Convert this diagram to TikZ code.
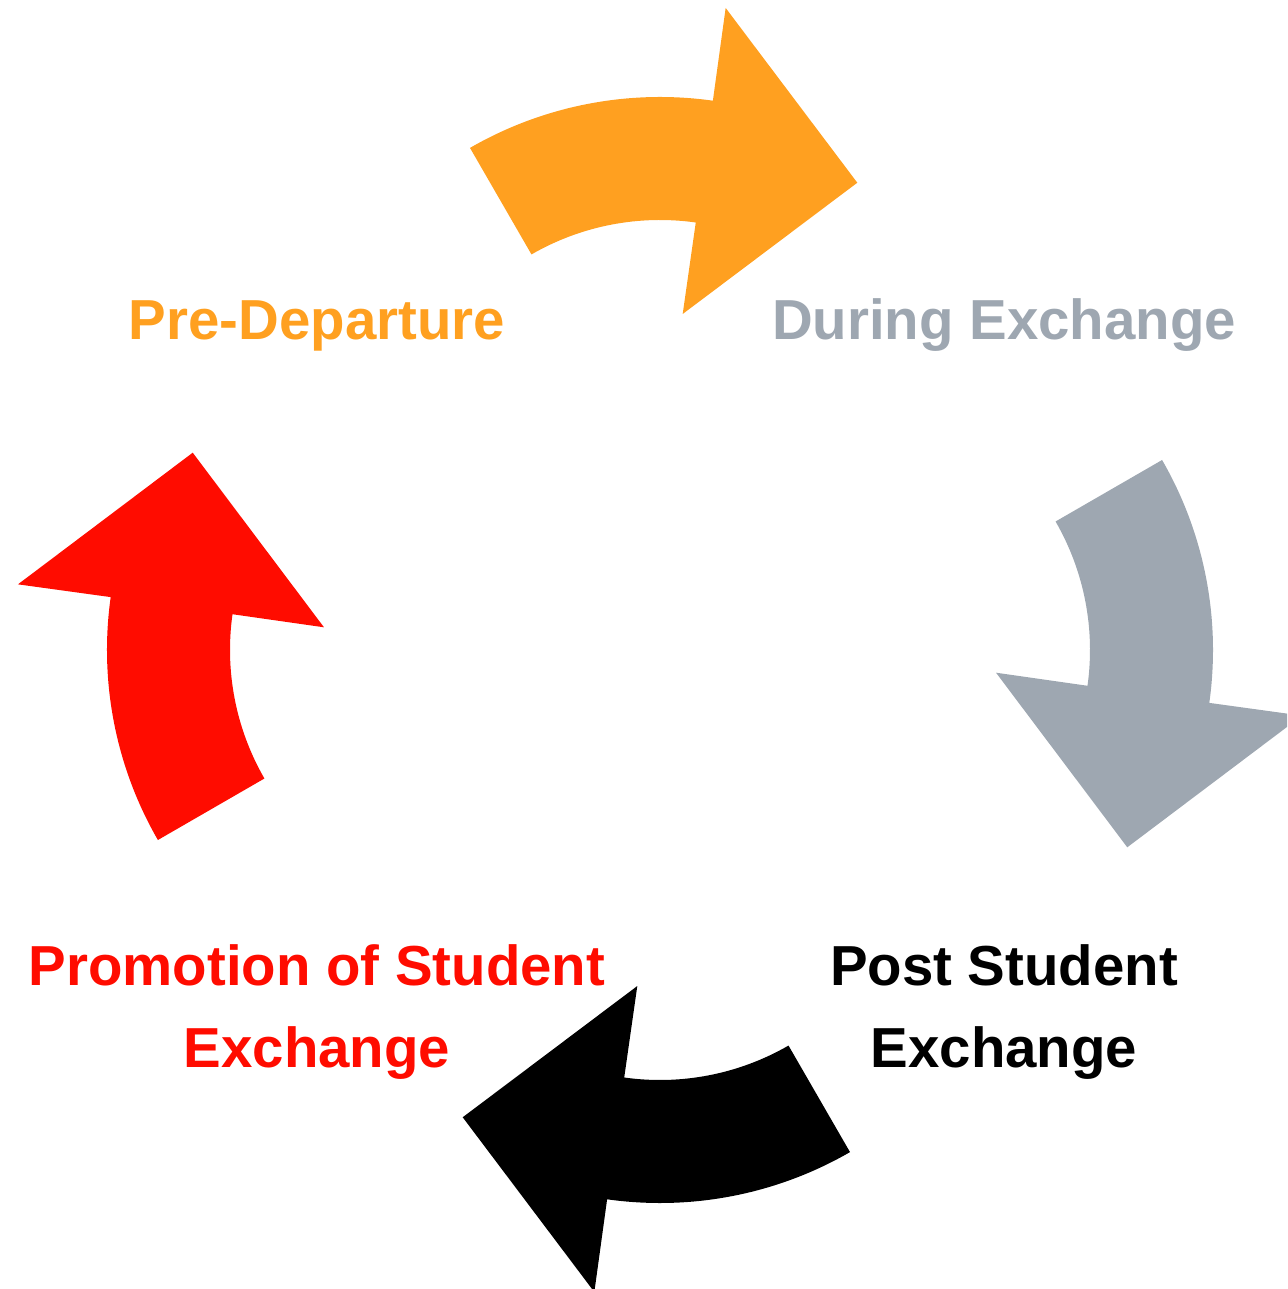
\documentclass[tikz,border=0pt]{standalone}
\usepackage{fontspec}
\setmainfont{Liberation Sans}
\definecolor{cOrange}{RGB}{255,160,32}
\definecolor{cGray}{RGB}{158,167,177}
\definecolor{cRed}{RGB}{255,12,0}
\definecolor{cBlack}{RGB}{0,0,0}
\tikzset{
  cyclearrow/.pic={
    \begin{scope}[shift={(0,173)}]
      \fill[pic actions] (120:380) arc[start angle=120,end angle=82,radius=380pt]
        -- (82.03:473.6) -- (56.16:354.3) -- (82.07:164.6) -- (82:257)
        arc[start angle=82,end angle=120,radius=257pt] -- cycle;
    \end{scope}
  },
  lbl/.style={font=\bfseries\fontsize{56.4}{81.3}\selectfont, anchor=base, inner sep=0pt, align=center}
}
\begin{document}
\begin{tikzpicture}[x=1pt,y=1pt]
  \clip (-660,-639) rectangle (627,650);
  \pic[fill=cOrange] (arrowpre) at (0,0) {cyclearrow};
  \pic[fill=cGray, rotate=-90] (arrowduring) at (0,0) {cyclearrow};
  \pic[fill=cBlack, rotate=-180] (arrowpost) at (0,0) {cyclearrow};
  \pic[fill=cRed, rotate=-270] (arrowpromo) at (0,0) {cyclearrow};
  \node[lbl, text=cOrange] (pre) at (-343,310) {Pre-Departure};
  \node[lbl, text=cGray] (during) at (344,310) {During Exchange};
  \node[lbl, text=cBlack] (post) at (344,-417) {Post Student\\Exchange};
  \node[lbl, text=cRed] (promo) at (-343,-417) {Promotion of Student\\Exchange};
\end{tikzpicture}
\end{document}
